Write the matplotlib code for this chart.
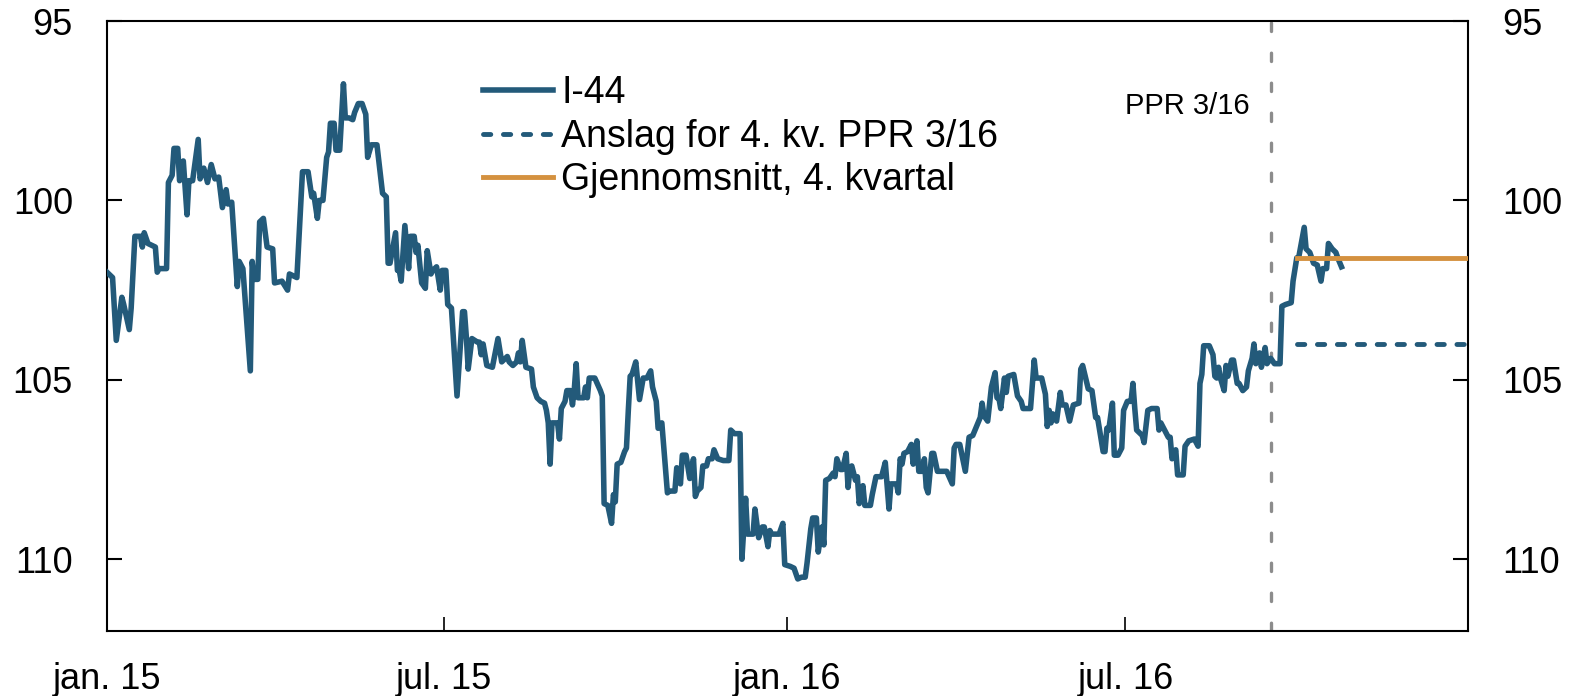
import matplotlib
matplotlib.use("Agg")
import matplotlib.pyplot as plt
import matplotlib.dates as mdates
import matplotlib.transforms as mtransforms
import pandas as pd

plt.rcParams["font.family"] = ["Liberation Sans", "DejaVu Sans"]

# I-44. days = dager etter 1. januar 2015
start = pd.Timestamp("2015-01-01")
days = [
    0, 3, 5, 8, 9, 12, 13, 15, 18, 19, 20, 22, 26, 27, 28, 32, 33, 35, 36, 38,
    39, 41, 43, 44, 46, 49, 50, 52, 54, 56, 58, 60, 62, 64, 65, 67, 70, 71, 73, 77,
    78, 79, 81, 82, 84, 86, 89, 90, 94, 97, 98, 102, 105, 108, 110, 111, 113, 114, 116, 118,
    119, 120, 122, 123, 125, 127, 128, 130, 132, 133, 135, 137, 139, 140, 142, 145, 148, 150, 151, 152,
    155, 156, 157, 158, 160, 162, 163, 165, 166, 167, 169, 171, 172, 174, 175, 177, 179, 180, 182, 183,
    185, 186, 188, 191, 192, 193, 194, 196, 199, 200, 201, 202, 204, 207, 210, 212, 215, 216, 218, 220,
    221, 222, 223, 225, 228, 229, 231, 233, 235, 236, 237, 238, 239, 242, 243, 244, 246, 247, 249, 250,
    251, 252, 253, 256, 257, 258, 259, 262, 265, 266, 267, 269, 271, 272, 273, 274, 276, 278, 279, 280,
    281, 282, 284, 286, 288, 290, 292, 293, 295, 296, 298, 301, 302, 305, 306, 308, 309, 311, 313, 315,
    316, 317, 319, 320, 322, 323, 325, 326, 328, 331, 334, 335, 337, 340, 341, 343, 344, 347, 348, 350,
    352, 353, 355, 356, 357, 361, 363, 364, 367, 369, 370, 371, 373, 375, 376, 378, 379, 381, 382, 384,
    385, 386, 388, 390, 391, 392, 394, 395, 397, 398, 399, 400, 402, 403, 404, 406, 407, 410, 411, 413,
    416, 418, 420, 421, 424, 425, 426, 427, 428, 430, 432, 433, 435, 436, 438, 439, 440, 441, 443, 444,
    446, 451, 454, 455, 456, 458, 459, 461, 463, 465, 467, 469, 470, 471, 473, 475, 477, 478, 479, 480,
    482, 483, 484, 487, 489, 491, 492, 496, 498, 499, 502, 504, 505, 506, 507, 508, 510, 512, 513, 515,
    517, 519, 522, 523, 524, 527, 529, 531, 532, 535, 536, 537, 538, 540, 541, 543, 545, 546, 548, 550,
    551, 552, 553, 556, 557, 559, 561, 564, 565, 566, 568, 570, 571, 572, 574, 575, 578, 579, 581, 584,
    586, 587, 588, 589, 592, 594, 595, 596, 597, 598, 600, 601, 602, 604, 605, 607, 608, 610, 612, 613,
    615, 616, 617, 619, 620, 622, 623, 625, 627, 630, 631, 633, 636, 637, 639, 640, 643, 644, 646, 647,
    648, 650, 652, 653, 655, 656, 658, 660, 661, 663,
]
i44 = [
    102.0, 102.15, 103.9, 102.7, 102.9, 103.6, 103.0, 101.0, 101.0, 101.3, 100.9, 101.2, 101.3, 102.0, 101.9, 101.9, 99.5, 99.3, 98.55, 98.55,
    99.45, 98.9, 100.4, 99.45, 99.45, 98.3, 99.4, 99.1, 99.5, 99.0, 99.4, 99.35, 100.2, 99.7, 100.1, 100.05, 102.4, 101.7, 101.9, 104.75,
    101.7, 102.2, 102.2, 100.6, 100.5, 101.3, 101.35, 102.3, 102.25, 102.5, 102.05, 102.15, 99.2, 99.2, 99.9, 99.8, 100.5, 100.0, 100.0, 98.8,
    98.65, 97.85, 97.85, 98.6, 98.6, 96.75, 97.7, 97.7, 97.75, 97.55, 97.3, 97.3, 97.6, 98.8, 98.45, 98.45, 99.8, 99.9, 101.75, 101.75,
    100.9, 101.95, 101.95, 102.25, 100.7, 101.9, 101.0, 101.0, 101.45, 101.25, 102.3, 102.45, 101.4, 102.05, 101.95, 101.85, 102.5, 101.95, 101.95, 102.9,
    103.0, 103.8, 105.45, 103.1, 103.1, 103.8, 104.7, 103.85, 103.95, 103.95, 104.3, 104.0, 104.6, 104.65, 103.85, 104.5, 104.35, 104.5, 104.6, 104.5,
    104.25, 104.5, 103.9, 104.65, 104.7, 105.2, 105.5, 105.6, 105.65, 105.85, 106.2, 107.35, 106.2, 106.2, 106.65, 105.8, 105.6, 105.3, 105.3, 105.7,
    105.25, 104.55, 105.5, 105.5, 105.2, 105.5, 104.95, 104.95, 105.3, 105.45, 108.45, 108.5, 109.0, 108.2, 108.4, 107.35, 107.3, 107.0, 106.9, 105.85,
    104.9, 104.85, 104.5, 105.55, 104.95, 104.95, 104.75, 105.2, 105.6, 106.35, 106.2, 108.15, 108.1, 108.1, 107.45, 107.9, 107.1, 107.1, 107.75, 107.2,
    108.25, 108.1, 108.0, 107.4, 107.4, 107.2, 107.2, 106.95, 107.2, 107.25, 107.25, 106.4, 106.5, 106.5, 110.0, 108.3, 109.3, 109.3, 108.6, 109.4,
    109.1, 109.1, 109.65, 109.2, 109.3, 109.3, 109.0, 110.15, 110.2, 110.25, 110.4, 110.55, 110.5, 110.5, 110.1, 109.15, 108.85, 108.85, 109.8, 109.1,
    109.6, 107.8, 107.75, 107.6, 107.7, 107.2, 107.5, 107.5, 107.05, 108.0, 107.5, 107.4, 107.8, 107.7, 108.45, 107.95, 108.5, 108.5, 108.2, 107.7,
    107.7, 107.3, 108.6, 107.9, 107.9, 108.15, 107.2, 107.35, 107.05, 107.0, 106.8, 107.35, 106.7, 107.55, 107.55, 107.2, 108.0, 108.15, 107.05, 107.05,
    107.55, 107.55, 107.9, 106.9, 106.8, 106.8, 107.05, 107.55, 106.6, 106.55, 106.3, 106.05, 105.65, 106.0, 106.15, 105.2, 104.8, 105.5, 105.5, 105.8,
    104.95, 105.35, 104.9, 104.85, 105.45, 105.6, 105.8, 105.8, 104.45, 104.95, 104.95, 105.4, 106.3, 105.85, 106.2, 105.95, 106.15, 105.35, 105.7, 105.7,
    106.15, 105.7, 105.65, 104.7, 104.6, 105.25, 105.3, 106.05, 106.05, 107.0, 107.0, 106.35, 106.4, 105.65, 107.1, 107.1, 106.9, 105.85, 105.6, 105.6,
    105.1, 105.8, 106.4, 106.55, 106.75, 105.85, 105.8, 105.8, 106.4, 106.2, 106.4, 106.6, 106.6, 107.2, 106.95, 107.65, 107.65, 106.85, 106.7, 106.65,
    106.85, 105.1, 104.85, 104.05, 104.05, 104.3, 104.9, 104.95, 104.65, 104.95, 105.3, 104.6, 104.9, 104.45, 104.45, 105.1, 105.1, 105.3, 105.2, 104.75,
    104.4, 104.0, 104.55, 104.25, 104.65, 104.1, 104.55, 104.4, 104.55, 104.55, 102.95, 102.9, 102.85, 102.25, 101.6, 101.6, 100.75, 101.35, 101.45, 101.6,
    101.75, 101.8, 102.25, 101.9, 101.9, 101.2, 101.35, 101.45, 101.6, 101.85,
]
dates = start + pd.to_timedelta(days, unit="D")

ppr_date = pd.Timestamp("2016-09-17")
q4_start = pd.Timestamp("2016-10-01")
q4_end = pd.Timestamp("2017-01-01")
forecast_q4 = 104.0  # anslag PPR 3/16
avg_q4 = 101.6       # gjennomsnitt hittil i 4. kvartal

tick_dates = pd.to_datetime(["2015-01-01", "2015-07-01", "2016-01-01", "2016-07-01"])
tick_labels = ["jan. 15", "jul. 15", "jan. 16", "jul. 16"]
y_ticks = [95, 100, 105, 110]

blue = "#235a7a"
orange = "#d4913f"

fig = plt.figure(figsize=(15.73, 6.96), dpi=100)
ax = fig.add_axes([0.068, 0.0934, 0.8653, 0.8764])

ax.axvline(ppr_date, color="#8c8c8c", lw=2.4, dashes=(2.5, 6.5),
           dash_capstyle="round", zorder=1)
ax.plot(dates, i44, color=blue, lw=4.0, solid_joinstyle="round", label="I-44", zorder=3)
ax.plot([q4_start, q4_end], [forecast_q4, forecast_q4], color=blue, lw=3.5,
        dashes=(1.5, 2.6), dash_capstyle="round", label="Anslag for 4. kv. PPR 3/16", zorder=2)
ax.plot([q4_start, q4_end], [avg_q4, avg_q4], color=orange, lw=3.5,
        label="Gjennomsnitt, 4. kvartal", zorder=4)

trans = mtransforms.blended_transform_factory(ax.transData, ax.transAxes)
ax.annotate("PPR 3/16", xy=(mdates.date2num(ppr_date), 0.86), xycoords=trans,
            xytext=(-15, 0), textcoords="offset points", ha="right", va="center",
            fontsize=21)

ax.set_xlim(start, q4_end)
ax.set_ylim(112, 95)
ax.set_xticks(tick_dates)
ax.set_xticklabels(tick_labels)
ax.set_yticks(y_ticks)

for s in ax.spines.values():
    s.set_linewidth(1.5)
ax.tick_params(axis="x", direction="in", length=10, width=1.2, pad=22, labelsize=26)
ax.tick_params(axis="y", direction="in", length=11, width=1.5, pad=24.5, labelsize=26,
               left=True, right=True, labelleft=True, labelright=True)

ax.legend(loc="upper left", bbox_to_anchor=(0.276, 0.911), frameon=False, fontsize=27,
          handlelength=1.87, handletextpad=0.22, labelspacing=0.2, borderpad=0,
          borderaxespad=0)

fig.savefig("out.png", dpi=100)
